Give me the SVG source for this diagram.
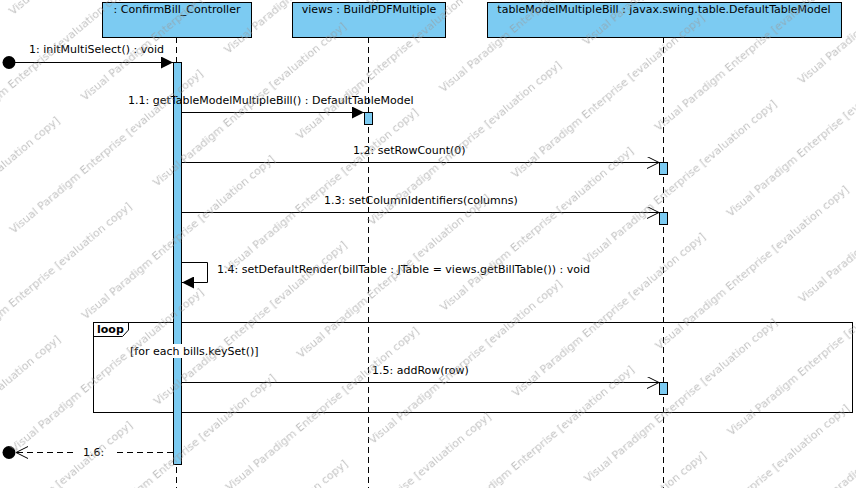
<svg xmlns="http://www.w3.org/2000/svg" width="856" height="488" viewBox="0 0 856 488">
<style>
.t{font-family:"DejaVu Sans",sans-serif;font-size:11px;fill:#000}
.hd{fill:#7ccbf2;stroke:#000;stroke-width:1}
.act{fill:#7ccbf2;stroke:#000;stroke-width:1}
.ll{stroke:#000;stroke-width:1;stroke-dasharray:6,4;fill:none}
.msg{stroke:#000;stroke-width:1;fill:none}
.ret{stroke:#000;stroke-width:1;stroke-dasharray:6,4;fill:none}
.wm{font-family:"DejaVu Sans",sans-serif;font-size:11px;fill:#9a9a9a;fill-opacity:0.6}
</style>
<defs>
<marker id="fill" markerWidth="13" markerHeight="12" refX="12" refY="6" orient="auto" markerUnits="userSpaceOnUse">
<path d="M0,0 L12,6 L0,12 Z" fill="#000"/>
</marker>
<marker id="open" markerWidth="14" markerHeight="14" refX="12" refY="6" orient="auto" markerUnits="userSpaceOnUse">
<path d="M0,0 L12,6 L0,12" fill="none" stroke="#000" stroke-width="1"/>
</marker>
<pattern id="wmp" width="280" height="112" patternUnits="userSpaceOnUse" patternTransform="rotate(-40)">
<text class="wm" x="0" y="20">Visual Paradigm Enterprise [evaluation copy]</text>
<text class="wm" x="140" y="76">Visual Paradigm Enterprise [evaluation copy]</text>
<text class="wm" x="-140" y="76">Visual Paradigm Enterprise [evaluation copy]</text>
</pattern>
</defs>
<rect x="0" y="0" width="856" height="488" fill="#fff"/>

<g id="lifelines">
<line class="ll" x1="176.5" y1="37" x2="176.5" y2="488"/>
<line class="ll" x1="368.5" y1="37" x2="368.5" y2="488"/>
<line class="ll" x1="663.5" y1="37" x2="663.5" y2="488"/>
</g>

<g id="node-controller">
<rect class="hd" x="102.5" y="2.5" width="149" height="35"/>
<text class="t" x="177" y="13" text-anchor="middle">: ConfirmBill_Controller</text>
</g>
<g id="node-views">
<rect class="hd" x="292.5" y="2.5" width="153" height="35"/>
<text class="t" x="369" y="13" text-anchor="middle">views : BuildPDFMultiple</text>
</g>
<g id="node-tablemodel">
<rect class="hd" x="487.5" y="2.5" width="354" height="35"/>
<text class="t" x="664" y="13" text-anchor="middle">tableModelMultipleBill : javax.swing.table.DefaultTableModel</text>
</g>

<g id="loop-frame">
<rect x="93.5" y="322.5" width="759" height="90" fill="none" stroke="#000"/>
<path d="M93.5,322.5 L128.5,322.5 L128.5,330 L122.5,336.5 L93.5,336.5" fill="none" stroke="#000"/>
<text class="t" x="97" y="333" font-weight="bold">loop</text>
</g>

<g id="activations">
<rect class="act" x="173.5" y="62.5" width="8" height="402"/>
<rect class="act" x="364.5" y="112.5" width="8" height="12"/>
<rect class="act" x="659.5" y="162.5" width="8" height="12"/>
<rect class="act" x="659.5" y="212.5" width="8" height="12"/>
<rect class="act" x="659.5" y="382.5" width="8" height="12"/>
</g>

<g id="guard">
<rect x="128" y="344" width="134" height="14" fill="#fff"/>
<text class="t" x="130" y="355">[for each bills.keySet()]</text>
</g>

<g id="start-end">
<circle cx="9" cy="62.5" r="6.5" fill="#000"/>
<circle cx="9" cy="452.5" r="6.5" fill="#000"/>
</g>

<g id="connectors">
<line class="msg" x1="15" y1="62.5" x2="173" y2="62.5" marker-end="url(#fill)"/>
<line class="msg" x1="181.5" y1="112.5" x2="364" y2="112.5" marker-end="url(#fill)"/>
<line class="msg" x1="181.5" y1="162.5" x2="659" y2="162.5" marker-end="url(#open)"/>
<line class="msg" x1="181.5" y1="212.5" x2="659" y2="212.5" marker-end="url(#open)"/>
<path class="msg" d="M181.5,262.5 L207.5,262.5 L207.5,282.5 L182,282.5" marker-end="url(#fill)"/>
<line class="msg" x1="181.5" y1="382.5" x2="659" y2="382.5" marker-end="url(#open)"/>
<line class="ret" x1="173" y1="452.5" x2="16" y2="452.5" marker-end="url(#open)"/>
</g>

<g id="labels">
<text class="t" x="29" y="53">1: initMultiSelect() : void</text>
<text class="t" x="128" y="104">1.1: getTableModelMultipleBill() : DefaultTableModel</text>
<text class="t" x="353" y="154">1.2: setRowCount(0)</text>
<text class="t" x="324" y="204">1.3: setColumnIdentifiers(columns)</text>
<text class="t" x="217" y="273">1.4: setDefaultRender(billTable : JTable = views.getBillTable()) : void</text>
<text class="t" x="372" y="374">1.5: addRow(row)</text>
<rect x="73" y="445" width="44" height="14" fill="#fff"/>
<text class="t" x="83" y="456">1.6:</text>
</g>

<rect x="0" y="0" width="856" height="488" fill="url(#wmp)"/>
</svg>
